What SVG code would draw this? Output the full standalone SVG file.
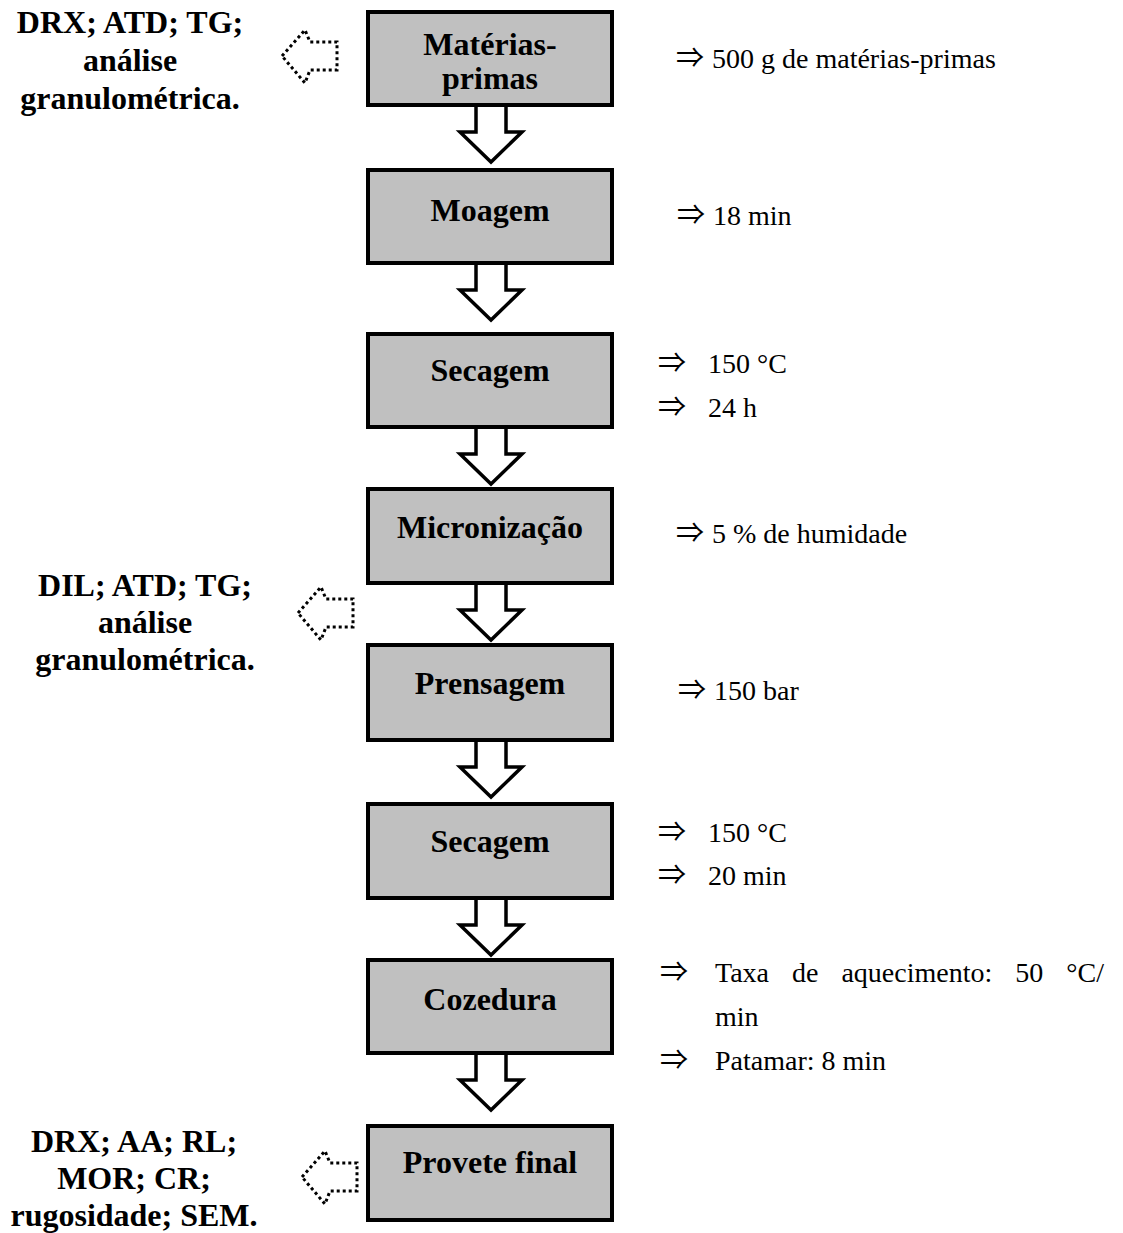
<svg xmlns="http://www.w3.org/2000/svg" xmlns:xlink="http://www.w3.org/1999/xlink" width="1123" height="1233" viewBox="0 0 1123 1233">
<style>
.box{fill:#c0c0c0;stroke:#000;stroke-width:4}
.bt{font-family:"Liberation Serif","Times New Roman",serif;font-weight:bold;font-size:32px;text-anchor:middle;fill:#000}
.lt{font-family:"Liberation Serif","Times New Roman",serif;font-weight:bold;font-size:32px;text-anchor:middle;fill:#000}
.rt{font-family:"Liberation Serif","Times New Roman",serif;font-size:28px;fill:#000}
.ar{font-family:"Noto Sans CJK SC","DejaVu Sans",sans-serif;font-size:28px}
.arr{fill:#fff;stroke:#000;stroke-width:3.5;stroke-linejoin:miter}
.dot{fill:none;stroke:#000;stroke-width:3;stroke-dasharray:3 3}
</style>
<defs>
<polygon id="blk" class="arr" points="-15,0 -15,27 -31,27 0,57 31,27 15,27 15,0"/>
<polygon id="dar" class="dot" points="0,0 23,-26 28,-14 55,-14 55,14 28,14 23,27"/>
</defs>
<g id="connectors">
<use xlink:href="#blk" x="491" y="105"/>
<use xlink:href="#blk" x="491" y="263"/>
<use xlink:href="#blk" x="491" y="427"/>
<use xlink:href="#blk" x="491" y="583"/>
<use xlink:href="#blk" x="491" y="740"/>
<use xlink:href="#blk" x="491" y="898"/>
<use xlink:href="#blk" x="491" y="1053"/>
<use xlink:href="#dar" x="282" y="56"/>
<use xlink:href="#dar" x="298" y="613"/>
<use xlink:href="#dar" x="302" y="1177"/>
</g>
<g id="n1"><rect class="box" x="368" y="12" width="244" height="93"/><text class="bt" x="490" y="55">Matérias-</text><text class="bt" x="490" y="89">primas</text></g>
<g id="n2"><rect class="box" x="368" y="170" width="244" height="93"/><text class="bt" x="490" y="221">Moagem</text></g>
<g id="n3"><rect class="box" x="368" y="334" width="244" height="93"/><text class="bt" x="490" y="381">Secagem</text></g>
<g id="n4"><rect class="box" x="368" y="489" width="244" height="94"/><text class="bt" x="490" y="538">Micronização</text></g>
<g id="n5"><rect class="box" x="368" y="645" width="244" height="95"/><text class="bt" x="490" y="694">Prensagem</text></g>
<g id="n6"><rect class="box" x="368" y="804" width="244" height="94"/><text class="bt" x="490" y="852">Secagem</text></g>
<g id="n7"><rect class="box" x="368" y="960" width="244" height="93"/><text class="bt" x="490" y="1010">Cozedura</text></g>
<g id="n8"><rect class="box" x="368" y="1126" width="244" height="94"/><text class="bt" x="490" y="1173">Provete final</text></g>
<g id="left1"><text class="lt" x="130" y="33">DRX; ATD; TG;</text><text class="lt" x="130" y="71">análise</text><text class="lt" x="130" y="109">granulométrica.</text></g>
<g id="left2"><text class="lt" x="145" y="596">DIL; ATD; TG;</text><text class="lt" x="145" y="633">análise</text><text class="lt" x="145" y="670">granulométrica.</text></g>
<g id="left3"><text class="lt" x="134" y="1152">DRX; AA; RL;</text><text class="lt" x="134" y="1189">MOR; CR;</text><text class="lt" x="134" y="1226">rugosidade; SEM.</text></g>
<g id="notes">
<text class="rt" y="68"><tspan class="ar" x="676">⇒</tspan><tspan x="712">500 g de matérias-primas</tspan></text>
<text class="rt" y="225"><tspan class="ar" x="677">⇒</tspan><tspan x="713">18 min</tspan></text>
<text class="rt" y="373"><tspan class="ar" x="658">⇒</tspan><tspan x="708">150 °C</tspan></text>
<text class="rt" y="417"><tspan class="ar" x="658">⇒</tspan><tspan x="708">24 h</tspan></text>
<text class="rt" y="543"><tspan class="ar" x="676">⇒</tspan><tspan x="712">5 % de humidade</tspan></text>
<text class="rt" y="700"><tspan class="ar" x="678">⇒</tspan><tspan x="714">150 bar</tspan></text>
<text class="rt" y="842"><tspan class="ar" x="658">⇒</tspan><tspan x="708">150 °C</tspan></text>
<text class="rt" y="885"><tspan class="ar" x="658">⇒</tspan><tspan x="708">20 min</tspan></text>
<text class="rt" y="982"><tspan class="ar" x="660">⇒</tspan><tspan x="715" word-spacing="16">Taxa de aquecimento: 50 °C/</tspan></text>
<text class="rt" y="1026"><tspan x="715">min</tspan></text>
<text class="rt" y="1070"><tspan class="ar" x="660">⇒</tspan><tspan x="715">Patamar: 8 min</tspan></text>
</g>
</svg>
